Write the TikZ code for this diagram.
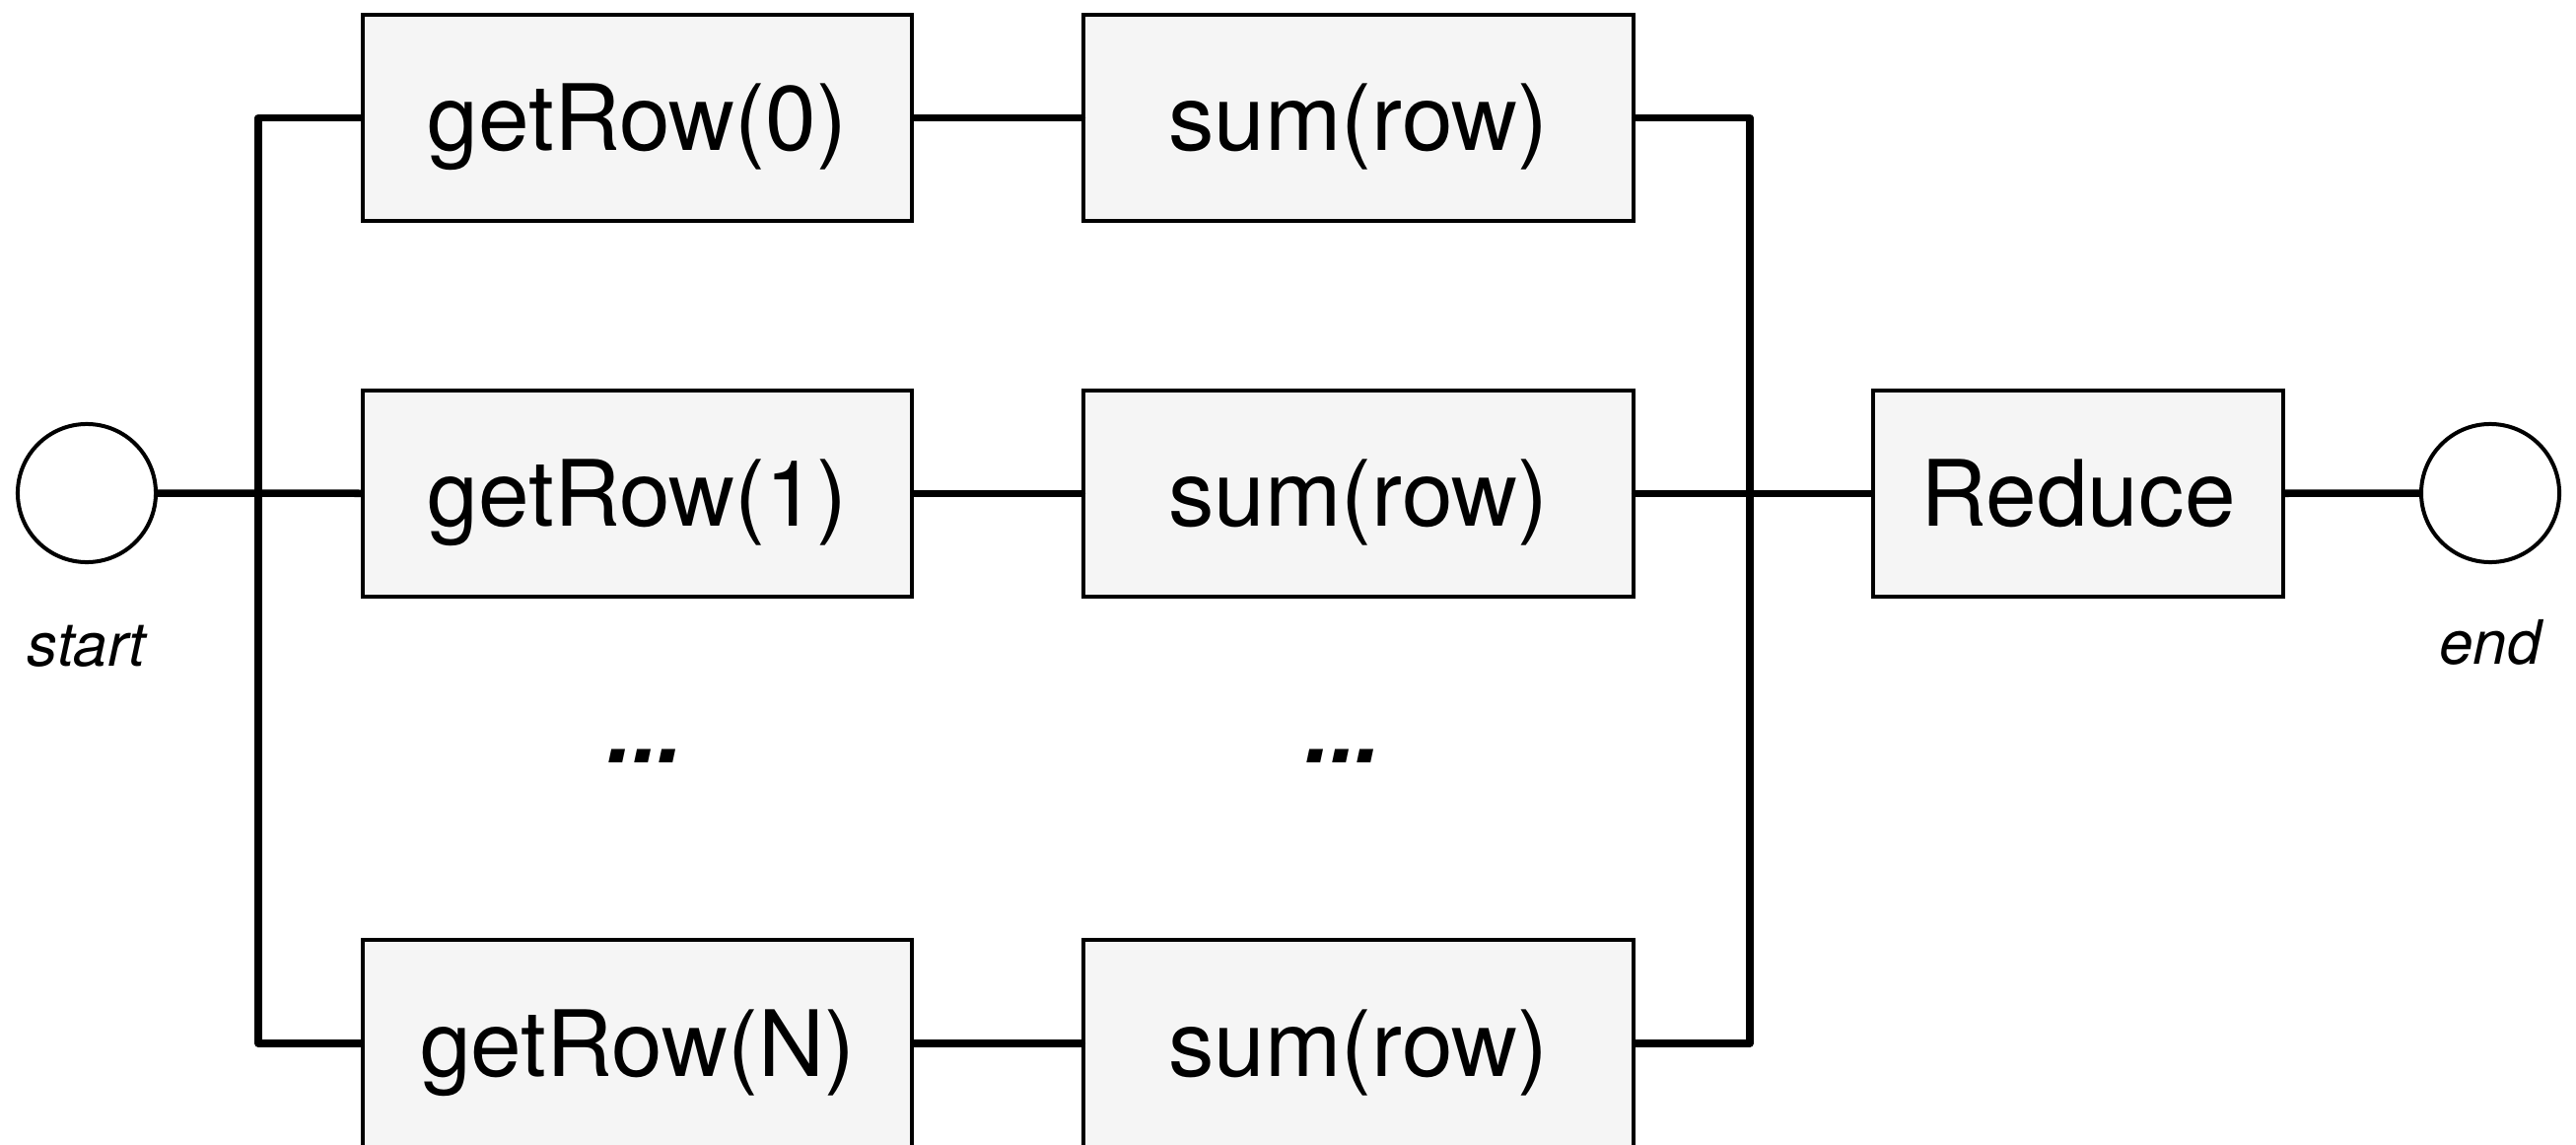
\documentclass[tikz,border=0pt]{standalone}
\usepackage{fontspec}
\setmainfont{TeX Gyre Heros}
\begin{document}
\begin{tikzpicture}[x=0.01cm,y=-0.01cm,
  box/.style={draw=black, fill=boxgray, line width=0.04cm, rectangle,
    minimum width=5.57cm, minimum height=2.09cm, inner sep=0pt,
    font=\fontsize{26.4}{30}\selectfont, text height=0.66cm, text depth=0pt},
  term/.style={draw=black, fill=white, line width=0.04cm, circle, minimum size=1.4cm, inner sep=0pt},
  lbl/.style={font=\fontsize{17.6}{20}\selectfont\itshape, anchor=base, inner sep=0pt},
  dots/.style={font=\fontsize{26.4}{30}\selectfont\bfseries\itshape, anchor=base, inner sep=0pt},
  conn/.style={line width=0.075cm, line cap=round, line join=round}]
\definecolor{boxgray}{HTML}{F5F5F5}
\useasboundingbox (0,0) rectangle (2613,1161);
% nodes
\node[term] (s) at (88,500) {};
\node[term] (e) at (2526,500) {};
\node[box] (g0) at (646.5,119.5) {getRow(0)};
\node[box] (g1) at (646.5,500.5) {getRow(1)};
\node[box] (gN) at (646.5,1058) {getRow(N)};
\node[box] (s0) at (1378,119.5) {sum(row)};
\node[box] (s1) at (1378,500.5) {sum(row)};
\node[box] (sN) at (1378,1058) {sum(row)};
\node[box, minimum width=4.16cm] (r) at (2108,500.5) {Reduce};
\node[lbl] (ls) at (88,675) {start};
\node[lbl] (le) at (2526,673) {end};
\node[dots] (d1) at (654,773) {...};
\node[dots] (d2) at (1362,773) {...};
\coordinate (busL) at (262,500);
\coordinate (busR) at (1775,500);
% connectors
\draw[conn] (g0.west) -| (busL) |- (gN.west);
\draw[conn] (s) -- (g1);
\draw[conn] (g0) -- (s0);
\draw[conn] (g1) -- (s1);
\draw[conn] (gN) -- (sN);
\draw[conn] (s0.east) -| (busR) |- (sN.east);
\draw[conn] (s1) -- (r);
\draw[conn] (r) -- (e);
\end{tikzpicture}
\end{document}
